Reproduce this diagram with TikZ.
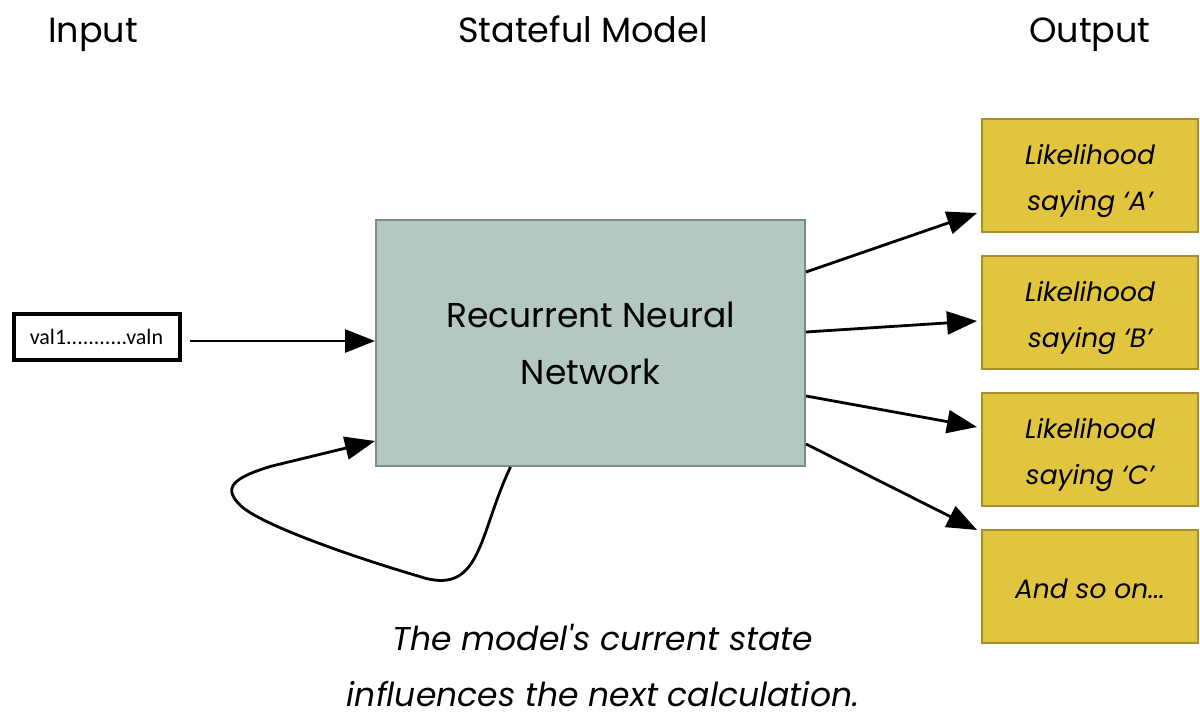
\documentclass[tikz,border=0pt]{standalone}
\usepackage{fontspec}
\setmainfont{Poppins}[Ligatures=TeXOff]
\newfontfamily\boxfont{Carlito}
\usetikzlibrary{arrows.meta}
\definecolor{rnnfill}{HTML}{B3C8C0}
\definecolor{rnnline}{HTML}{7D8C86}
\definecolor{outfill}{HTML}{E2C53E}
\definecolor{outline}{HTML}{A88F2C}
\tikzset{
  title/.style={font=\fontsize{35}{40}\selectfont, anchor=base},
  outbox/.style={draw=outline, line width=2pt, fill=outfill, minimum width=216pt, minimum height=113pt},
  outtext/.style={align=center, font=\fontsize{26.5}{46}\selectfont\itshape},
  conn/.style={line width=2.8pt, -{Triangle[length=30pt,width=23pt]}},
}
\begin{document}
\begin{tikzpicture}[x=1pt,y=-1pt]
\useasboundingbox (0,0) rectangle (1200,722);
\node[title] (tin) at (93,43) {Input};
\node[title] (tmod) at (583,43) {Stateful Model};
\node[title] (tout) at (1090,43) {Output};
\node[draw=black, line width=4pt, minimum width=166pt, minimum height=46pt, font=\boxfont\fontsize{22}{24}\selectfont] (in) at (96.5,336.5) {val1...........valn};
\node[draw=rnnline, line width=2pt, fill=rnnfill, minimum width=429pt, minimum height=246pt, align=center, font=\fontsize{34.5}{57}\selectfont] (rnn) at (590.5,343) {Recurrent Neural\\Network};
\node[outbox] (oA) at (1090,176) {};
\node[outbox] (oB) at (1090,312.5) {};
\node[outbox] (oC) at (1090,449.5) {};
\node[outbox] (oD) at (1090,586) {};
\node[outtext] (tA) at ([yshift=-5pt]oA.center) {Likelihood\\saying ‘A’};
\node[outtext] (tB) at ([yshift=-5pt]oB.center) {Likelihood\\saying ‘B’};
\node[outtext] (tC) at ([yshift=-5pt]oC.center) {Likelihood\\saying ‘C’};
\node[outtext] (tD) at ([yshift=-3pt]oD.center) {And so on...};
\node[align=center, font=\fontsize{33}{56}\selectfont\itshape] (cap) at (603,666) {The model's current state\\influences the next calculation.};
\draw[conn] ([yshift=-4.5pt]in.east) ++(8,0) coordinate (inend) -- ([yshift=2pt]rnn.west);
\draw[conn] ([yshift=71pt]rnn.east) -- ([xshift=-4pt,yshift=-37pt]oA.west);
\draw[conn] ([yshift=11pt]rnn.east) -- ([xshift=-4pt,yshift=-8.5pt]oB.west);
\draw[conn] ([yshift=-53pt]rnn.east) -- ([xshift=-4pt,yshift=22.5pt]oC.west);
\draw[conn] ([yshift=-101pt]rnn.east) -- ([xshift=-4pt,yshift=56pt]oD.west);
\draw[conn] ([xshift=-80pt]rnn.south) .. controls (478,535) and (482,598) .. (418,576)
  .. controls (350,556) and (262,525) .. (241,506)
  .. controls (222,488) and (232,478) .. (272,466)
  -- ([yshift=26pt]rnn.south west);
\end{tikzpicture}
\end{document}
